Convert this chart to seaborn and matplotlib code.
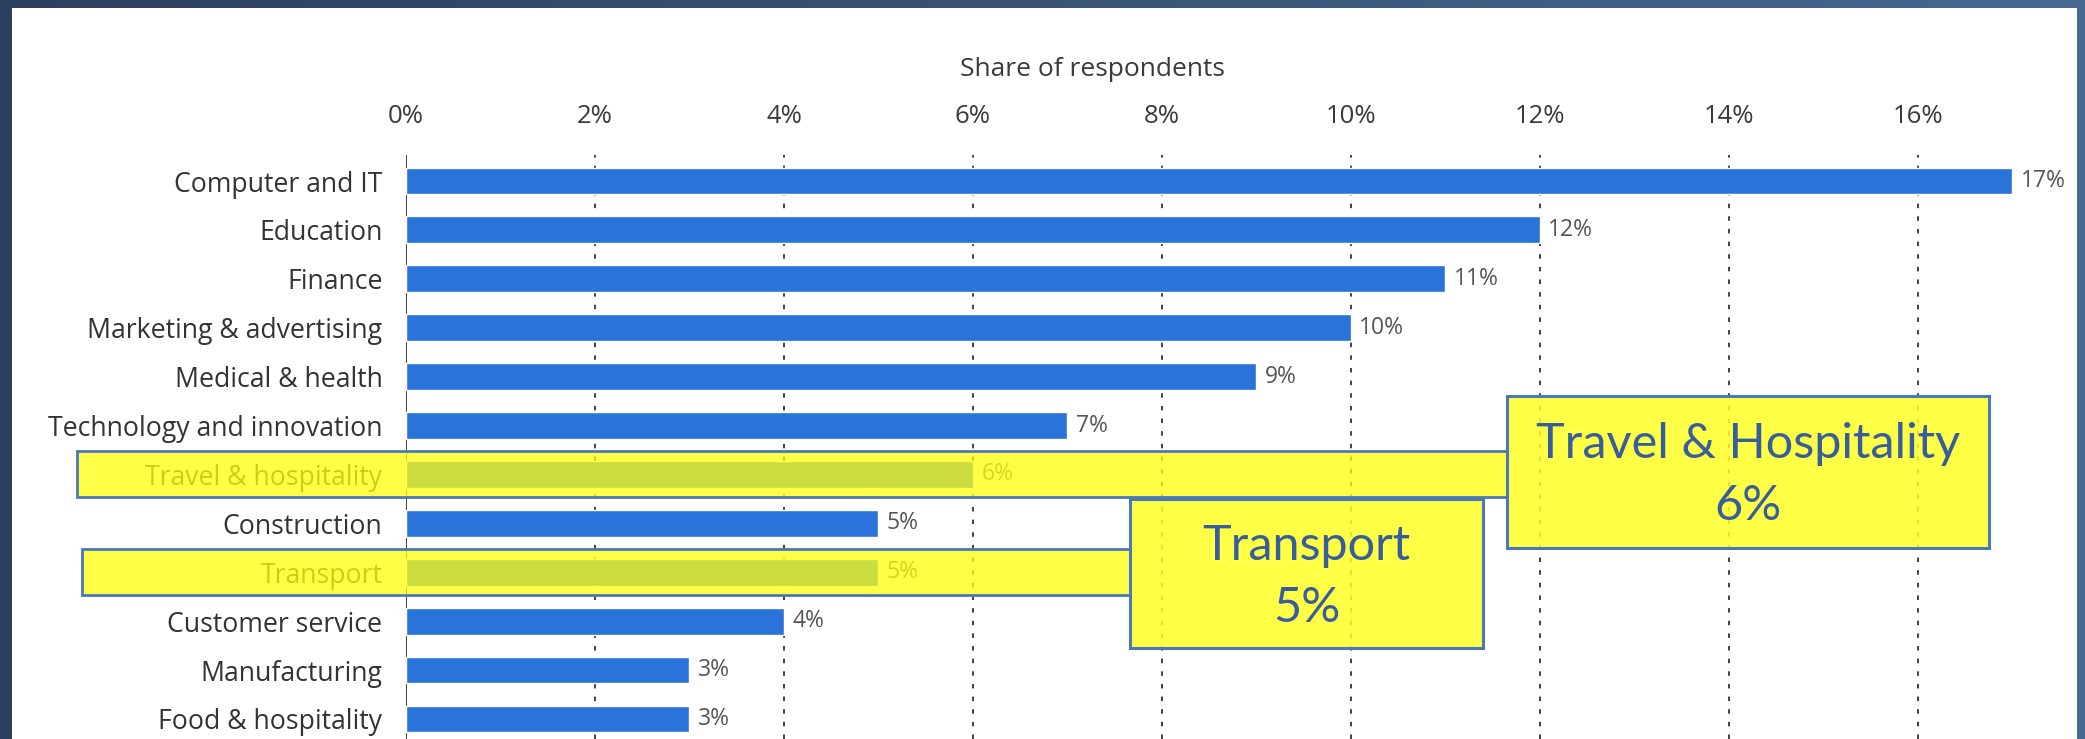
import numpy as np
import pandas as pd
import matplotlib
matplotlib.use("Agg")
import matplotlib.pyplot as plt
from matplotlib.colors import LinearSegmentedColormap
from matplotlib.patches import Rectangle
import seaborn as sns

# data
industries = ["Computer and IT", "Education", "Finance", "Marketing & advertising",
              "Medical & health", "Technology and innovation", "Travel & hospitality",
              "Construction", "Transport", "Customer service", "Manufacturing",
              "Food & hospitality"]
shares = [17, 12, 11, 10, 9, 7, 6, 5, 5, 4, 3, 3]
x_ticks = [0, 2, 4, 6, 8, 10, 12, 14, 16]

# highlighted rows and their callouts
highlights = ["Travel & hospitality", "Transport"]
callout_text = ["Travel & Hospitality\n6%", "Transport\n5%"]

df = pd.DataFrame({"Industry": industries, "Share": shares})

sns.set_theme(style="white")
plt.rcParams["font.family"] = ["Open Sans", "DejaVu Sans"]

W, H = 2085, 739
fig = plt.figure(figsize=(W / 100, H / 100), dpi=100)

# navy backdrop + white panel
bg = fig.add_axes([0, 0, 1, 1], zorder=-10)
cmap = LinearSegmentedColormap.from_list("bg", ["#2a4061", "#45698f"])
bg.imshow(np.linspace(0, 1, 256).reshape(1, -1), aspect="auto", cmap=cmap,
          extent=[0, 1, 0, 1])
bg.add_patch(Rectangle((12 / W, 0), 2065 / W, 1 - 8 / H, facecolor="white",
                       edgecolor="none"))
bg.set_xlim(0, 1)
bg.set_ylim(0, 1)
bg.axis("off")

ax = fig.add_axes([406 / W, 0, (2069 - 406) / W, 584 / H])
ax.patch.set_alpha(0)
sns.barplot(data=df, x="Share", y="Industry", color="#2a73db", saturation=1,
            width=0.55, ax=ax, zorder=2)

ax.set_xlim(0, 17.6)
ax.set_ylim(11.41, -0.532)
for s in ax.spines.values():
    s.set_visible(False)

ax.xaxis.tick_top()
ax.xaxis.set_label_position("top")
ax.set_xticks(x_ticks)
ax.set_xticklabels([f"{t}%" for t in x_ticks])
ax.tick_params(axis="x", length=0, pad=19, labelsize=18.5, labelcolor="#3a3a3a")
ax.tick_params(axis="y", length=0, pad=17, labelsize=19.2, labelcolor="#333333")
ax.set_ylabel("")
ax.set_xlabel("Share of respondents", fontsize=19, color="#3a3a3a")
ax.xaxis.set_label_coords(0.413, 1.135)

# axis line at 0 and dashed gridlines
ax.axvline(0, color="#222222", lw=1.2, zorder=1)
for t in x_ticks[1:]:
    ax.axvline(t, color="#333333", lw=1.3, ls=(0, (2.5, 4.5)), zorder=1)

ax.bar_label(ax.containers[0], labels=[f"{v}%" for v in shares], padding=6,
             fontsize=16.5, color="#555555")

# yellow highlight bands (x span in data units)
band_spans = [(-3.48, 11.65), (-3.43, 7.66)]
for name, (x0, x1) in zip(highlights, band_spans):
    row = industries.index(name)
    ax.add_patch(Rectangle((x0, row - 0.47), x1 - x0, 0.94,
                           facecolor=(1, 1, 0.05, 0.76), edgecolor="#4a78b8",
                           lw=2, clip_on=False, zorder=5))

# callout boxes
boxes = [((11.65, 16.75), (4.40, 7.50)), ((7.66, 11.40), (6.50, 9.55))]
for txt, ((x0, x1), (y0, y1)) in zip(callout_text, boxes):
    ax.add_patch(Rectangle((x0, y0), x1 - x0, y1 - y0,
                           facecolor=(1, 1, 0.15, 0.85), edgecolor="#4a78b8",
                           lw=2.2, clip_on=False, zorder=6))
    ax.text((x0 + x1) / 2, (y0 + y1) / 2 + 0.07, txt, ha="center", va="center",
            fontsize=35, color="#385d9c", linespacing=1.5, zorder=7,
            family=["Lato", "DejaVu Sans"], clip_on=False)

fig.savefig("out.png", dpi=100)
